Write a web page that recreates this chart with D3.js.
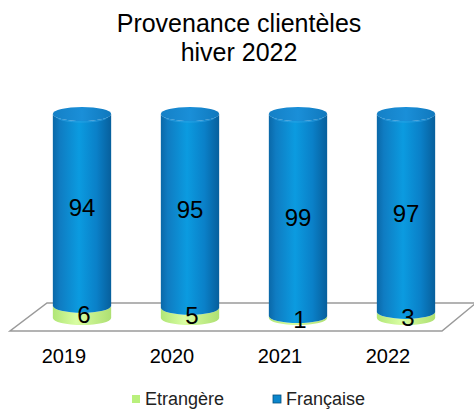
<!DOCTYPE html>
<html>
<head>
<meta charset="utf-8">
<script src="https://cdn.jsdelivr.net/npm/d3@7"></script>
<style>
  body { margin: 0; background: #fff; }
  text { font-family: "Liberation Sans", Arial, sans-serif; }
</style>
</head>
<body>
<svg id="chart" width="474" height="410"></svg>
<script>
// chart data
const years = ["2019", "2020", "2021", "2022"];
const etrangere = [6, 5, 1, 3];
const francaise = [94, 95, 99, 97];
const seriesNames = ["Etrangère", "Française"];

const svg = d3.select("#chart");

// scales
const x = d3.scaleBand(years, [28, 460]).paddingInner(0.46).paddingOuter(0.23);
const y = d3.scaleLinear([0, 100], [318, 114]);
const RY = 7;

// gradients for the cylinder look
const defs = svg.append("defs");
function sideGradient(id, stops) {
  const g = defs.append("linearGradient").attr("id", id)
    .attr("x1", "0%").attr("x2", "100%").attr("y1", "0%").attr("y2", "0%");
  stops.forEach(s => g.append("stop").attr("offset", s[0]).attr("stop-color", s[1]));
}
sideGradient("blueSide", [["0%", "#0a68a8"], ["12%", "#0f7cc2"], ["45%", "#0b9be0"], ["75%", "#0a80c8"], ["100%", "#075f9c"]]);
sideGradient("greenSide", [["0%", "#b0e676"], ["40%", "#d8fda2"], ["100%", "#aee072"]]);
sideGradient("blueTop", [["0%", "#1580c6"], ["50%", "#1a8fd8"], ["100%", "#1078bd"]]);

// floor
const floor = [[47, 303], [476, 303], [442, 331], [10, 331]];
svg.append("path")
  .attr("d", d3.line()(floor) + "Z")
  .attr("fill", "#fff")
  .attr("stroke", "#9a9a9a")
  .attr("stroke-width", 1.5);

// cylinder segment path: body from v0 to v1 with elliptical bottom
function bodyPath(cx, rx, y0, y1) {
  return `M${cx - rx},${y1} L${cx - rx},${y0} A${rx},${RY} 0 0 0 ${cx + rx},${y0} L${cx + rx},${y1} A${rx},${RY} 0 0 1 ${cx - rx},${y1} Z`;
}

const stacked = years.map((yr, i) => ({ yr, e: etrangere[i], f: francaise[i] }));
const groups = svg.append("g").selectAll("g").data(stacked).join("g");

groups.each(function (d) {
  const g = d3.select(this);
  const cx = x(d.yr) + x.bandwidth() / 2;
  const rx = x.bandwidth() / 2;
  // green bottom segment
  g.append("path")
    .attr("d", bodyPath(cx, rx, y(0), y(d.e)))
    .attr("fill", "url(#greenSide)");
  // blue segment
  g.append("path")
    .attr("d", bodyPath(cx, rx, y(d.e), y(d.e + d.f)))
    .attr("fill", "url(#blueSide)");
  // top cap
  g.append("ellipse")
    .attr("cx", cx).attr("cy", y(d.e + d.f))
    .attr("rx", rx).attr("ry", RY)
    .attr("fill", "url(#blueTop)");
  g.append("path")
    .attr("d", `M${cx - rx + 4},${y(d.e + d.f) + 3} A${rx - 4},${RY - 2} 0 0 0 ${cx + rx - 4},${y(d.e + d.f) + 3}`)
    .attr("fill", "none").attr("stroke", "#3aa8ea").attr("stroke-width", 1).attr("opacity", 0.6);

  // value labels
  g.append("text")
    .attr("x", cx).attr("y", y(d.e) - 90)
    .attr("text-anchor", "middle").attr("font-size", 24).attr("fill", "#000")
    .text(d.f);
  g.append("text")
    .attr("x", cx + 2).attr("y", y(d.e / 2) + 11)
    .attr("text-anchor", "middle").attr("font-size", 24).attr("fill", "#000")
    .text(d.e);
});

// category axis labels
svg.append("g").selectAll("text").data(years).join("text")
  .attr("x", d => x(d) + x.bandwidth() / 2 - 18)
  .attr("y", 363)
  .attr("text-anchor", "middle")
  .attr("font-size", 20)
  .attr("fill", "#000")
  .text(d => d);

// title
const title = svg.append("text")
  .attr("x", 239).attr("text-anchor", "middle")
  .attr("font-size", 25).attr("fill", "#000");
title.append("tspan").attr("x", 239).attr("y", 32).text("Provenance clientèles");
title.append("tspan").attr("x", 239).attr("y", 61).text("hiver 2022");

// legend
const legendX = [132, 273];
const legend = svg.append("g").selectAll("g").data(seriesNames).join("g")
  .attr("transform", (d, i) => `translate(${legendX[i]},395)`);
legend.append("rect")
  .attr("width", 8).attr("height", 8)
  .attr("fill", (d, i) => i === 0 ? "#b9f07c" : "#0b86cc")
  .attr("stroke", (d, i) => i === 0 ? "none" : "#06507e")
  .attr("stroke-width", 0.8);
legend.append("text")
  .attr("x", 13).attr("y", 10)
  .attr("font-size", 18).attr("fill", "#222")
  .text(d => d);
</script>
</body>
</html>
